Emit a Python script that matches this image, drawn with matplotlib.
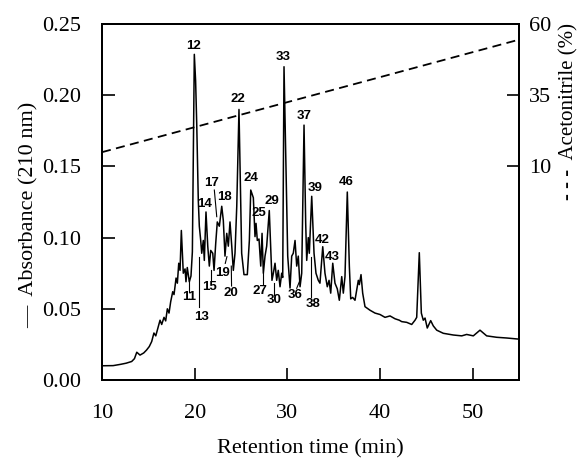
import matplotlib.pyplot as plt

# chromatogram trace (retention time in min, absorbance at 210 nm)
time = [10.0, 11.2, 12.0, 12.6, 13.2, 13.5, 13.75, 14.1, 14.5, 14.8, 15.1, 15.36, 15.6, 15.8,
        16.26, 16.44, 16.69, 16.87, 17.05, 17.23, 17.41, 17.63, 17.77, 17.99, 18.13, 18.28,
        18.42, 18.56, 18.77, 18.96, 19.06, 19.2, 19.42, 19.6, 19.75, 19.96, 20.1, 20.22,
        20.39, 20.5, 20.65, 20.76, 20.93, 21.04, 21.22, 21.41, 21.58, 21.73, 21.95, 22.09,
        22.27, 22.44, 22.66, 22.92, 23.09, 23.27, 23.46, 23.63, 23.81, 24.0, 24.17, 24.35,
        24.54, 24.78, 24.97, 25.07, 25.32, 25.68, 25.9, 26.05, 26.33, 26.51, 26.62, 26.76,
        26.94, 27.13, 27.27, 27.41, 27.59, 27.77, 28.05, 28.24, 28.34, 28.49, 28.67, 28.85,
        29.02, 29.21, 29.39, 29.5, 29.64, 29.86, 30.04, 30.29, 30.47, 30.64, 30.83, 31.01,
        31.18, 31.37, 31.55, 31.8, 31.98, 32.09, 32.26, 32.37, 32.63, 32.88, 33.09, 33.34,
        33.52, 33.82, 34.06, 34.31, 34.5, 34.68, 34.9, 35.14, 35.39, 35.61, 35.87, 36.04,
        36.22, 36.47, 36.69, 36.84, 37.05, 37.3, 37.66, 37.77, 37.95, 38.13, 38.38, 38.92,
        39.46, 40.0, 40.54, 41.08, 41.62, 42.08, 42.34, 42.88, 43.42, 43.78, 43.96, 44.24,
        44.46, 44.67, 44.86, 45.1, 45.47, 45.75, 46.12, 46.83, 47.91, 48.82, 49.35, 50.07,
        50.79, 51.15, 51.51, 52.59, 53.67, 54.75, 55.0]
absorb = [0.0100, 0.0101, 0.0110, 0.0118, 0.0130, 0.0150, 0.0195, 0.0175, 0.0190, 0.0210,
          0.0235, 0.0270, 0.0330, 0.0310, 0.0420, 0.0390, 0.0440, 0.0415, 0.0500, 0.0470,
          0.0550, 0.0620, 0.0600, 0.0716, 0.0680, 0.0820, 0.0770, 0.1050, 0.0750, 0.0780,
          0.0690, 0.0790, 0.0690, 0.0730, 0.0900, 0.2287, 0.2100, 0.1800, 0.1260, 0.1080,
          0.0980, 0.0890, 0.0980, 0.0840, 0.1180, 0.0940, 0.0800, 0.0910, 0.0890, 0.0770,
          0.0960, 0.1110, 0.1080, 0.1220, 0.1120, 0.0870, 0.1030, 0.0940, 0.1110, 0.0940,
          0.0770, 0.0890, 0.1220, 0.1900, 0.1220, 0.0890, 0.0740, 0.0740, 0.0980, 0.1334,
          0.1280, 0.1007, 0.1100, 0.0980, 0.0990, 0.0800, 0.1030, 0.0750, 0.0870, 0.0940,
          0.1190, 0.0870, 0.0700, 0.0750, 0.0820, 0.0700, 0.0770, 0.0655, 0.0750, 0.0720,
          0.2200, 0.1450, 0.0870, 0.0646, 0.0870, 0.0890, 0.0980, 0.0800, 0.0870, 0.0655,
          0.0750, 0.1790, 0.1100, 0.0840, 0.1000, 0.0890, 0.1290, 0.0890, 0.0750, 0.0700,
          0.0680, 0.0936, 0.0750, 0.0655, 0.0700, 0.0610, 0.0820, 0.0680, 0.0640, 0.0560,
          0.0726, 0.0610, 0.0726, 0.1320, 0.0800, 0.0570, 0.0580, 0.0560, 0.0700, 0.0670,
          0.0740, 0.0610, 0.0515, 0.0490, 0.0470, 0.0460, 0.0440, 0.0450, 0.0430, 0.0420,
          0.0410, 0.0405, 0.0390, 0.0420, 0.0440, 0.0894, 0.0470, 0.0420, 0.0435, 0.0365,
          0.0417, 0.0380, 0.0350, 0.0328, 0.0316, 0.0310, 0.0320, 0.0310, 0.0350, 0.0330,
          0.0310, 0.0300, 0.0295, 0.0288, 0.0287]

# acetonitrile gradient (%)
grad_time = [10, 55]
grad_pct = [15.0, 54.5]

# peak numbers: label, x, y of label
peak_names = ["12", "22", "33", "37", "17", "14", "18", "24", "25", "29", "39", "42", "43", "46",
              "11", "13", "15", "19", "20", "27", "30", "36", "38"]
peak_x = [19.82, 24.71, 29.50, 31.80, 21.84, 21.11, 23.17, 26.05, 26.94, 28.31, 32.98, 33.71,
          34.89, 36.33, 19.42, 20.76, 21.65, 22.98, 23.92, 27.05, 28.60, 30.83, 32.80]
peak_y = [0.2346, 0.1973, 0.2271, 0.1854, 0.1386, 0.1234, 0.1287, 0.1421, 0.1171, 0.1257,
          0.1346, 0.0983, 0.0862, 0.1393, 0.0581, 0.0440, 0.0651, 0.0749, 0.0609, 0.0627,
          0.0562, 0.0595, 0.0534]

# leader lines for some labels
lead_x0 = [19.42, 20.47, 21.76, 22.12, 23.48, 23.95, 27.34, 28.60, 31.37, 32.55]
lead_y0 = [0.0702, 0.0866, 0.0772, 0.1334, 0.0866, 0.0800, 0.0749, 0.0680, 0.0702, 0.0866]
lead_x1 = [19.42, 20.47, 21.76, 22.38, 23.30, 23.98, 27.34, 28.60, 31.01, 32.55]
lead_y1 = [0.0620, 0.0515, 0.0702, 0.1147, 0.0819, 0.0660, 0.0667, 0.0597, 0.0644, 0.0585]

serif = "Liberation Serif"

fig = plt.figure(figsize=(5.84, 4.59), dpi=100)
ax = fig.add_axes([0.1747, 0.1721, 0.714, 0.7756])
ax2 = ax.twinx()

ax.plot(time, absorb, color="black", lw=1.1)
for x0, y0, x1, y1 in zip(lead_x0, lead_y0, lead_x1, lead_y1):
    ax.plot([x0, x1], [y0, y1], color="black", lw=0.8)
for name, x, y in zip(peak_names, peak_x, peak_y):
    ax.text(x, y, name, ha="center", va="center", fontsize=9.5, fontweight="bold",
            family="Liberation Sans")

ax2.plot(grad_time, grad_pct, color="black", lw=1.3, ls=(0, (5, 3)))

ax.set_xlim(10, 55)
ax.set_ylim(0, 0.25)
ax2.set_ylim(-65, 60)
ax.set_xticks([10, 20, 30, 40, 50])
ax.set_yticks([0, 0.05, 0.10, 0.15, 0.20, 0.25])
ax.set_yticklabels(["0.00", "0.05", "0.10", "0.15", "0.20", "0.25"])
ax2.set_yticks([10, 35, 60])

for a in (ax, ax2):
    a.tick_params(direction="in", length=9, width=1.2, labelsize=16, pad=7)
    for lab in a.get_xticklabels() + a.get_yticklabels():
        lab.set_family(serif)
    for s in a.spines.values():
        s.set_linewidth(1.4)
ax.tick_params(axis="y", pad=15)
ax.tick_params(axis="x", pad=17)

ax.set_xlabel("Retention time (min)", family=serif, fontsize=16, labelpad=12)
fig.text(29 / 584, 1 - 215 / 459, "—  Absorbance (210 nm)", family=serif, fontsize=16,
         rotation=90, ha="center", va="center")
fig.text(569 / 584, 1 - 112 / 459, "- - -  Acetonitrile (%)", family=serif, fontsize=15,
         rotation=90, ha="center", va="center")

fig.savefig("out.png", dpi=100)
